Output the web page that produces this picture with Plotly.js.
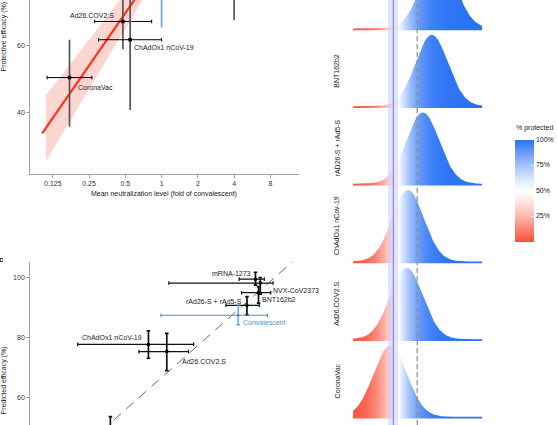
<!DOCTYPE html>
<html><head><meta charset="utf-8">
<script src="https://cdn.plot.ly/plotly-3.0.1.min.js"></script>
<style>html,body{margin:0;padding:0;background:#fff}#chart{width:557px;height:425px}</style>
</head><body><div id="chart"></div>
<script>
// ---------------- DATA ----------------
// Panel (top-left): protective efficacy vs mean neutralization level
const bNames      = ['CoronaVac', 'Ad26.COV2.S', 'ChAdOx1 nCoV-19'];
const bNeut       = [0.172, 0.477, 0.548];
const bNeutLo     = [0.112, 0.278, 0.300];
const bNeutHi     = [0.264, 0.827, 1.000];
const bEff        = [50.4, 67.3, 61.8];
const bEffLo      = [35.6, 58.9, 40.6];
const bEffHi      = [61.8, 75.7, 83.0];
const bUpperNeut  = [4.0];          // vaccine above the visible area (only its lower CI shows)
const bUpperEff   = [89.3];
const bUpperEffLo = [67.7];
const bUpperEffHi = [95.2];
const bConvNeut   = [1.0];
const bConvEff    = [82.0];
const bConvEffLo  = [65.5];
const bConvEffHi  = [95.0];
const fitNeut     = [0.102, 0.630];
const fitEff      = [33.6, 75.1];
const bandUpNeut  = [0.1097, 0.521];
const bandUpEff   = [45.1, 76.8];
const bandLowNeut = [0.1097, 0.780];
const bandLowEff  = [25.2, 76.8];
const bTickVals   = [0.125, 0.25, 0.5, 1, 2, 4, 8];
const bTickText   = ['0.125', '0.25', '0.5', '1', '2', '4', '8'];

// Panel c: predicted vs observed efficacy
const cNames   = ['mRNA-1273', 'NVX-CoV2373', 'BNT162b2', 'rAd26-S + rAd5-S', 'ChAdOx1 nCoV-19', 'Ad26.COV2.S', 'CoronaVac'];
const cObs     = [94.3, 95.7, 95.2, 91.8, 62.8, 68.2, 51.6];
const cObsLo   = [89.5, 68.8, 90.2, 85.6, 42.0, 60.0, 36.0];
const cObsHi   = [96.9, 99.5, 98.8, 95.4, 76.1, 74.6, 62.0];
const cPred    = [99.4, 98.1, 94.9, 90.7, 77.7, 75.3, 46.0];
const cPredLo  = [97.4, 94.4, 91.4, 87.5, 73.1, 69.0, 38.3];
const cPredHi  = [101.7, 99.9, 96.9, 93.6, 82.2, 81.4, 53.7];
const cConvObs = [89.2], cConvObsLo = [66.5], cConvObsHi = [97.8];
const cConvPred = [87.4], cConvPredLo = [84.2], cConvPredHi = [90.8];
const identity = [45, 105.5];
const cTickVals = [60, 80, 100];

// Right panel: distributions of log2 neutralization (fold of convalescent)
const rNames = ['CoronaVac', 'Ad26.COV2.S', 'ChAdOx1 nCov-19', 'rAD26-S + rAd5-S', 'BNT162b2', 'NVX-CoV2373'];
const rMean  = [-2.62, -1.04, -0.89, 0.54, 1.42, 2.07];
const rSD    = [1.62, 1.60, 1.55, 1.60, 1.58, 1.65];
const rLimits = [-6.25, 6.34];
const prot50 = -2.33, prot50Lo = -2.84, prot50Hi = -1.88;   // 50% protective level (log2)
const protSlopeLog10 = 3.0;                                 // logistic slope (per log10)
const colourMid = -1.95;                                    // where the fill turns white (log2)
const convLevel = 0;                                        // convalescent level (log2)
const legendTicks = [25, 50, 75, 100];

// ---------------- STYLE / HELPERS ----------------
const W = 557, H = 425;
const FONT = 'Liberation Sans, Arial, Helvetica, sans-serif';
const TXT = '#222';
const px2x = p => p / W, py2y = p => 1 - p / H;
const RED = [249, 78, 56], WHITE = [255, 255, 255], BLUE = [42, 114, 246];
function mix(a, b, t) { return 'rgb(' + a.map((v, i) => Math.round(v + (b[i] - v) * t)).join(',') + ')'; }
function rwb(p) {
  if (p < 0.5) { const t = p / 0.5; return mix(RED, WHITE, 1 - Math.pow(1 - t, 1.25)); }
  const s = (p - 0.5) / 0.5; return mix(WHITE, BLUE, Math.pow(s, 1.2));
}
const k2 = protSlopeLog10 / Math.log2(10);
const colourAt = x => 1 / (1 + Math.exp(-k2 * (x - colourMid)));
const gradScale = [];
for (let j = 0; j <= 48; j++) {
  const t = j / 48, x = rLimits[0] + t * (rLimits[1] - rLimits[0]);
  gradScale.push([t, rwb(colourAt(x))]);
}
const sub = (a, b) => a.map((v, i) => v - b[i]);

const traces = [];
// ---- top-left panel
traces.push({
  x: bandUpNeut.concat(bandLowNeut.slice().reverse()),
  y: bandUpEff.concat(bandLowEff.slice().reverse()),
  xaxis: 'x', yaxis: 'y', type: 'scatter', mode: 'lines', fill: 'toself',
  fillcolor: 'rgba(250,170,160,0.48)', line: {width: 0}, hoverinfo: 'skip', showlegend: false
});
traces.push({
  x: fitNeut, y: fitEff, xaxis: 'x', yaxis: 'y', type: 'scatter', mode: 'lines',
  line: {color: '#ff3311', width: 2.2}, hoverinfo: 'skip', showlegend: false
});
traces.push({
  x: bNeut.concat(bUpperNeut), y: bEff.concat(bUpperEff), xaxis: 'x', yaxis: 'y', type: 'scatter', mode: 'markers',
  marker: {size: 3.5, symbol: 'square', color: '#000'},
  error_y: {type: 'data', array: sub(bEffHi.concat(bUpperEffHi), bEff.concat(bUpperEff)),
            arrayminus: sub(bEff.concat(bUpperEff), bEffLo.concat(bUpperEffLo)), color: '#555', thickness: 1.7, width: 0},
  error_x: {type: 'data', array: sub(bNeutHi, bNeut).concat([0]), arrayminus: sub(bNeut, bNeutLo).concat([0]),
            color: '#000', thickness: 1, width: 1.8},
  hoverinfo: 'skip', showlegend: false
});
traces.push({
  x: bConvNeut, y: bConvEff, xaxis: 'x', yaxis: 'y', type: 'scatter', mode: 'markers',
  marker: {size: 3.5, color: '#5b9cf0'},
  error_y: {type: 'data', array: sub(bConvEffHi, bConvEff), arrayminus: sub(bConvEff, bConvEffLo), color: '#6aa8f5', thickness: 1.7, width: 0},
  hoverinfo: 'skip', showlegend: false
});

// ---- panel c
traces.push({
  x: identity, y: identity, xaxis: 'x2', yaxis: 'y2', type: 'scatter', mode: 'lines',
  line: {color: '#6a6a6a', width: 1, dash: '10px,7px'}, hoverinfo: 'skip', showlegend: false
});
traces.push({
  x: cObs, y: cPred, xaxis: 'x2', yaxis: 'y2', type: 'scatter', mode: 'markers',
  marker: {size: 3, symbol: 'square', color: '#000'},
  error_x: {type: 'data', array: sub(cObsHi, cObs), arrayminus: sub(cObs, cObsLo), color: '#111', thickness: 1.2, width: 1.8},
  error_y: {type: 'data', array: sub(cPredHi, cPred), arrayminus: sub(cPred, cPredLo), color: '#111', thickness: 1.7, width: 1.8},
  hoverinfo: 'skip', showlegend: false
});
traces.push({
  x: cConvObs, y: cConvPred, xaxis: 'x2', yaxis: 'y2', type: 'scatter', mode: 'markers',
  marker: {size: 3, color: '#4a8fe6'},
  error_x: {type: 'data', array: sub(cConvObsHi, cConvObs), arrayminus: sub(cConvObs, cConvObsLo), color: '#4a8fe6', thickness: 1.2, width: 1.8},
  error_y: {type: 'data', array: sub(cConvPredHi, cConvPred), arrayminus: sub(cConvPred, cConvPredLo), color: '#4a8fe6', thickness: 1.2, width: 1.8},
  hoverinfo: 'skip', showlegend: false
});

// ---- right panel ridges
const PEAK = 0.92;
const N = 260;
rNames.forEach((nm, i) => {
  const xs = [], top = [], bot = [];
  for (let j = 0; j <= N; j++) {
    const x = rLimits[0] + j / N * (rLimits[1] - rLimits[0]);
    const z = (x - rMean[i]) / rSD[i];
    xs.push(x);
    top.push(i + PEAK * Math.exp(-0.5 * z * z) + 0.006);
    bot.push(i - 0.016);
  }
  traces.push({
    x: xs.concat(xs.slice().reverse()), y: top.concat(bot.slice().reverse()),
    xaxis: 'x3', yaxis: 'y3', type: 'scatter', mode: 'lines', fill: 'toself',
    fillgradient: {type: 'horizontal', colorscale: gradScale, start: rLimits[0], stop: rLimits[1]},
    line: {width: 0, color: 'rgba(0,0,0,0)'}, hoverinfo: 'skip', showlegend: false
  });
});
// convalescent marker at bottom (mostly outside view)
traces.push({
  x: [convLevel], y: [-0.118], xaxis: 'x3', yaxis: 'y3', type: 'scatter', mode: 'markers',
  marker: {size: 6, color: '#4a8fe6'}, cliponaxis: false, hoverinfo: 'skip', showlegend: false
});
// colorbar carrier
traces.push({
  x: [0], y: [-50], xaxis: 'x3', yaxis: 'y3', type: 'scatter', mode: 'markers',
  marker: {size: 1, color: [50], cmin: 0, cmax: 100,
    colorscale: [0, 0.1, 0.2, 0.3, 0.4, 0.5, 0.6, 0.7, 0.8, 0.9, 1].map(p => [p, rwb(p)]),
    showscale: true,
    colorbar: {x: px2x(516.7), xanchor: 'left', y: py2y(190.5), yanchor: 'middle',
      len: 102, lenmode: 'pixels', thickness: 19, thicknessmode: 'pixels',
      outlinewidth: 0, xpad: 0, ypad: 0,
      tickvals: legendTicks, ticktext: legendTicks.map(v => v + '%'),
      ticks: 'inside', ticklen: 3, tickcolor: 'rgba(255,255,255,0.8)', tickwidth: 1,
      tickfont: {size: 7, color: TXT, family: FONT}}},
  hoverinfo: 'skip', showlegend: false
});

// ---------------- LAYOUT ----------------
const axBase = {showgrid: false, zeroline: false, showline: true, linecolor: '#a0a0a0', linewidth: 1,
  ticks: 'outside', ticklen: 3, tickcolor: '#a0a0a0', tickfont: {size: 7, color: '#333', family: FONT}};
const annFont = {size: 7, color: TXT, family: FONT};
const ann = [];
const annBase = {showarrow: false, font: annFont, borderpad: 0};
// top-left labels (log axis -> log10 coordinates)
const bShift = [[7.3, -10.3, 'left'], [-8.3, 6.3, 'right'], [3.3, -7.3, 'left']];
bNames.forEach((nm, i) => ann.push(Object.assign({}, annBase, {
  text: nm, xref: 'x', yref: 'y', x: Math.log10(bNeut[i]), y: bEff[i],
  xanchor: bShift[i][2], yanchor: 'middle', xshift: bShift[i][0], yshift: bShift[i][1]})));
// panel c labels
const cShift = [[-3.6, 5.7, 'right'], [11.3, -7, 'left'], [2.4, -7.3, 'left'], [-4.4, 4.3, 'right'],
                [-5, 7, 'right'], [14.4, -10, 'left'], null];
cNames.forEach((nm, i) => { if (cShift[i]) ann.push(Object.assign({}, annBase, {
  text: nm, xref: 'x2', yref: 'y2', x: cObs[i], y: cPred[i],
  xanchor: cShift[i][2], yanchor: 'middle', xshift: cShift[i][0], yshift: cShift[i][1]})); });
ann.push(Object.assign({}, annBase, {text: 'Convalescent', xref: 'x2', yref: 'y2', x: cConvObs[0], y: cConvPred[0],
  xanchor: 'left', yanchor: 'middle', xshift: 4.3, yshift: -7, font: Object.assign({}, annFont, {color: '#4a8fe6'})}));
// ridge row labels
rNames.forEach((nm, i) => ann.push(Object.assign({}, annBase, {
  text: nm, xref: 'paper', yref: 'y3', x: px2x(338.3), y: i + 0.4636, xanchor: 'center', yanchor: 'middle', textangle: -90})));
// axis titles & panel letter & legend title
ann.push(Object.assign({}, annBase, {text: 'Protective efficacy (%)', xref: 'paper', yref: 'paper', x: px2x(4.5), y: py2y(36), xanchor: 'center', yanchor: 'middle', textangle: -90}));
ann.push(Object.assign({}, annBase, {text: 'Mean neutralization level (fold of convalescent)', xref: 'paper', yref: 'paper', x: px2x(165), y: py2y(194), xanchor: 'center', yanchor: 'middle'}));
ann.push(Object.assign({}, annBase, {text: 'Predicted efficacy (%)', xref: 'paper', yref: 'paper', x: px2x(4.5), y: py2y(380), xanchor: 'center', yanchor: 'middle', textangle: -90}));
ann.push(Object.assign({}, annBase, {text: '<b>c</b>', xref: 'paper', yref: 'paper', x: px2x(1.5), y: py2y(259), xanchor: 'center', yanchor: 'middle', font: {size: 8, color: '#000', family: FONT}}));
ann.push(Object.assign({}, annBase, {text: '% protected', xref: 'paper', yref: 'paper', x: px2x(516.7), y: py2y(128.3), xanchor: 'left', yanchor: 'middle'}));

const shapes = [
  {type: 'rect', xref: 'x3', yref: 'paper', x0: prot50Lo, x1: prot50Hi, y0: 0, y1: 1,
   fillcolor: 'rgba(200,200,252,0.5)', line: {width: 0}, layer: 'above'},
  {type: 'line', xref: 'x3', yref: 'paper', x0: prot50, x1: prot50, y0: 0, y1: 1,
   line: {color: 'rgba(105,105,245,0.9)', width: 1}, layer: 'above'},
  {type: 'line', xref: 'x3', yref: 'paper', x0: convLevel, x1: convLevel, y0: 0, y1: 1,
   line: {color: '#8c8c8c', width: 1.2, dash: '5px,3px'}, layer: 'above'}
];

const layout = {
  width: W, height: H, margin: {l: 0, r: 0, t: 0, b: 0}, paper_bgcolor: '#fff', plot_bgcolor: 'rgba(0,0,0,0)',
  font: {family: FONT, size: 7, color: TXT}, showlegend: false,
  xaxis: Object.assign({}, axBase, {type: 'log', domain: [px2x(30.3), px2x(300)], range: [-1.0909, 1.1399],
    tickvals: bTickVals, ticktext: bTickText, anchor: 'y'}),
  yaxis: Object.assign({}, axBase, {domain: [py2y(174), 1], range: [21.35, 73.77], tickvals: [40, 60], anchor: 'x'}),
  xaxis2: {visible: false, domain: [px2x(30.3), px2x(296.3)], range: [28, 106], anchor: 'y2'},
  yaxis2: Object.assign({}, axBase, {domain: [0, py2y(261.7)], range: [50.9, 105.2], tickvals: cTickVals, anchor: 'x2'}),
  xaxis3: {visible: false, domain: [px2x(354.3), px2x(484)], range: rLimits, anchor: 'y3'},
  yaxis3: {visible: false, domain: [0, 1], range: [-0.099, 5.373], anchor: 'x3'},
  annotations: ann, shapes: shapes
};

Plotly.newPlot('chart', traces, layout, {staticPlot: true, displayModeBar: false});
</script>
</body></html>
